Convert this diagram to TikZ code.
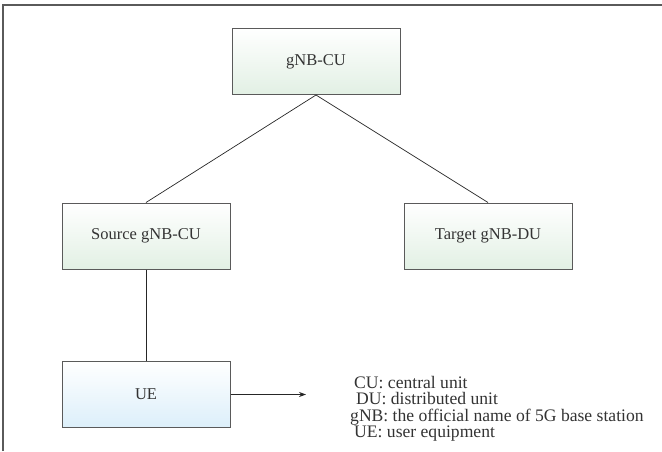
\documentclass[tikz,border=0pt]{standalone}
\usepackage{fontspec}
\setmainfont{Liberation Serif}
\usetikzlibrary{arrows.meta}
\definecolor{boxedge}{HTML}{5A5A5A}
\definecolor{greenbot}{HTML}{E2F0E4}
\definecolor{bluebot}{HTML}{DCEFFA}
\definecolor{txt}{HTML}{333333}
\begin{document}
\begin{tikzpicture}[x=1pt,y=1pt,
  unitbox/.style={draw=boxedge, line width=1pt, minimum width=168pt, minimum height=66pt,
    inner sep=0pt, top color=white, bottom color=greenbot, text=txt,
    font=\fontsize{16.5}{20}\selectfont},
  uebox/.style={unitbox, bottom color=bluebot},
  link/.style={draw=black!85, line width=0.7pt},
  legend/.style={anchor=base west, text=txt, inner sep=0pt,
    font=\fontsize{17.6}{18}\selectfont}]
\useasboundingbox (0,0) rectangle (662,-451);
\draw[boxedge, line width=1.2pt] (3,-451) -- (3,-5) -- (662,-5);
\node[unitbox] (cu) at (316,-61.5) {gNB-CU};
\node[unitbox] (src) at (146,-236) {Source gNB-CU};
\node[unitbox] (tgt) at (488,-236) {Target gNB-DU};
\node[uebox] (ue) at (146,-394.5) {UE};
\coordinate (arrowend) at (306,-394.5);
\draw[link] (cu.south) -- (src.north);
\draw[link] (cu.south) -- (tgt.north);
\draw[link] (src.south) -- (ue.north);
\draw[link, -{Stealth[length=7pt,width=5pt]}] (ue.east) -- (arrowend);
\node[legend] (l1) at (354,-388.5) {CU: central unit};
\node[legend] (l2) at (356,-404.5) {DU: distributed unit};
\node[legend] (l3) at (350,-421) {gNB: the official name of 5G base station};
\node[legend] (l4) at (354,-437) {UE: user equipment};
\end{tikzpicture}
\end{document}
